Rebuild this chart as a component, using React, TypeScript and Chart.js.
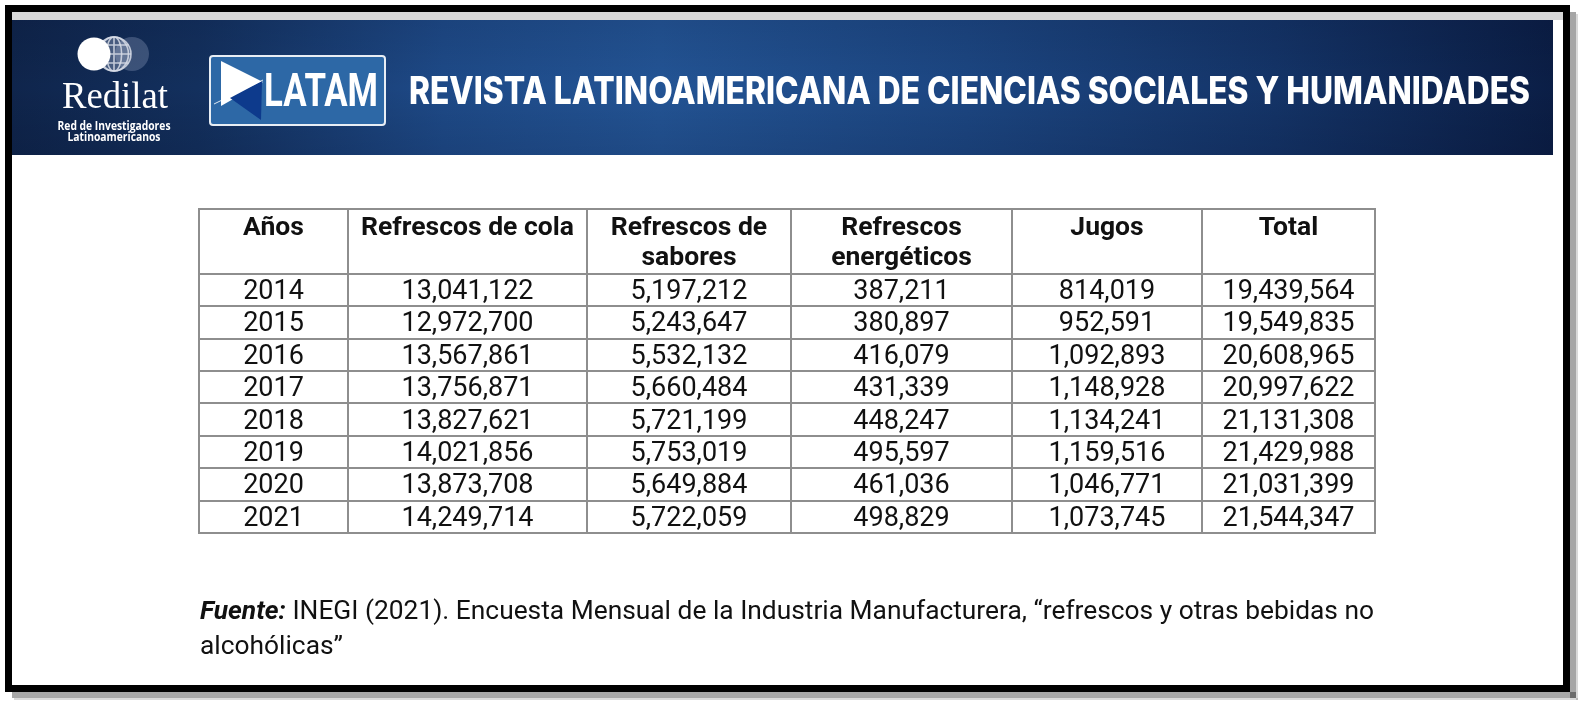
import React, { useEffect, useRef } from "react";
import { Chart, registerables } from "chart.js";

Chart.register(...registerables);

// ---------- data ----------
const years = ["2014", "2015", "2016", "2017", "2018", "2019", "2020", "2021"];
const refrescosCola = [13041122, 12972700, 13567861, 13756871, 13827621, 14021856, 13873708, 14249714];
const refrescosSabores = [5197212, 5243647, 5532132, 5660484, 5721199, 5753019, 5649884, 5722059];
const refrescosEnergeticos = [387211, 380897, 416079, 431339, 448247, 495597, 461036, 498829];
const jugos = [814019, 952591, 1092893, 1148928, 1134241, 1159516, 1046771, 1073745];
const total = [19439564, 19549835, 20608965, 20997622, 21131308, 21429988, 21031399, 21544347];

const columnHeaders = [
  ["Años"],
  ["Refrescos de cola"],
  ["Refrescos de", "sabores"],
  ["Refrescos", "energéticos"],
  ["Jugos"],
  ["Total"],
];

const bannerTitle = "REVISTA LATINOAMERICANA DE CIENCIAS SOCIALES Y HUMANIDADES";
const brandName = "Redilat";
const brandLine1 = "Red de Investigadores";
const brandLine2 = "Latinoamericanos";
const logoText = "LATAM";
const sourceLabel = "Fuente:";
const sourceLine1 = " INEGI (2021). Encuesta Mensual de la Industria Manufacturera, “refrescos y otras bebidas no";
const sourceLine2 = "alcohólicas”";

// ---------- layout / style ----------
const W = 1584;
const H = 706;
const COL_WIDTHS = [149, 239, 204, 221, 190, 173];
const HEADER_UNITS = 2;
const TABLE_BOX = { left: 199, top: 209, right: 1375, bottom: 533 };
const GRID_COLOR = "#8e8e8e";
const TEXT_COLOR = "#111111";

const colEdges: number[] = [0];
COL_WIDTHS.forEach((w, i) => colEdges.push(colEdges[i] + w));
const colCenters = COL_WIDTHS.map((w, i) => colEdges[i] + w / 2);

const columnValues: (string | number)[][] = [
  years,
  refrescosCola,
  refrescosSabores,
  refrescosEnergeticos,
  jugos,
  total,
];

const fmt = (v: string | number) => (typeof v === "number" ? v.toLocaleString("en-US") : v);

function fitText(ctx: CanvasRenderingContext2D, text: string, x: number, y: number, width: number, align: CanvasTextAlign) {
  const m = ctx.measureText(text).width;
  const s = width / m;
  ctx.save();
  ctx.translate(x, y);
  ctx.scale(s, 1);
  ctx.textAlign = align;
  ctx.fillText(text, 0, 0);
  ctx.restore();
}

const backgroundPlugin = {
  id: "pageBackground",
  beforeDraw(chart: any) {
    const ctx: CanvasRenderingContext2D = chart.ctx;
    ctx.save();
    ctx.fillStyle = "#ffffff";
    ctx.fillRect(0, 0, W, H);

    // frame shadow
    ctx.fillStyle = "rgba(0,0,0,0.35)";
    ctx.fillRect(1570, 12, 6, 686);
    ctx.fillRect(12, 692, 1564, 6);
    ctx.fillStyle = "rgba(0,0,0,0.15)";
    ctx.fillRect(1576, 14, 2, 686);
    ctx.fillRect(14, 698, 1564, 2);

    // black frame
    ctx.strokeStyle = "#000000";
    ctx.lineWidth = 7;
    ctx.strokeRect(8.5, 8.5, 1558, 680);

    // grey strip
    ctx.fillStyle = "#d8d8d8";
    ctx.fillRect(12, 12, 1551, 8);

    // banner
    const bx = 12, by = 20, bw = 1541, bh = 135;
    const g = ctx.createLinearGradient(bx, 0, bx + bw, 0);
    g.addColorStop(0, "#0f254c");
    g.addColorStop(0.12, "#13305e");
    g.addColorStop(0.28, "#1e4a88");
    g.addColorStop(0.42, "#235495");
    g.addColorStop(0.62, "#1c4682");
    g.addColorStop(0.82, "#143468");
    g.addColorStop(1, "#0b1e46");
    ctx.fillStyle = g;
    ctx.fillRect(bx, by, bw, bh);
    const gv = ctx.createLinearGradient(0, by, 0, by + bh);
    gv.addColorStop(0, "rgba(0,0,20,0.10)");
    gv.addColorStop(0.5, "rgba(0,0,0,0)");
    gv.addColorStop(1, "rgba(0,0,20,0.12)");
    ctx.fillStyle = gv;
    ctx.fillRect(bx, by, bw, bh);

    // Redilat circles
    const cy = 54;
    const r = 17;
    ctx.fillStyle = "rgba(120,135,170,0.42)";
    ctx.beginPath();
    ctx.arc(132, cy, r, 0, Math.PI * 2);
    ctx.fill();
    // globe
    const gx = 114;
    ctx.fillStyle = "rgba(190,200,220,0.32)";
    ctx.beginPath();
    ctx.arc(gx, cy, r, 0, Math.PI * 2);
    ctx.fill();
    ctx.strokeStyle = "rgba(215,220,230,0.85)";
    ctx.lineWidth = 1.6;
    ctx.beginPath();
    ctx.arc(gx, cy, r, 0, Math.PI * 2);
    ctx.stroke();
    [0.45, 0.85].forEach((k) => {
      ctx.beginPath();
      ctx.ellipse(gx, cy, r * k, r, 0, 0, Math.PI * 2);
      ctx.stroke();
    });
    ctx.beginPath();
    ctx.moveTo(gx, cy - r);
    ctx.lineTo(gx, cy + r);
    [-9, 0, 9].forEach((dy) => {
      const half = Math.sqrt(r * r - dy * dy);
      ctx.moveTo(gx - half, cy + dy);
      ctx.lineTo(gx + half, cy + dy);
    });
    ctx.stroke();
    // white circle
    ctx.fillStyle = "#ffffff";
    ctx.beginPath();
    ctx.arc(94, cy, 16.5, 0, Math.PI * 2);
    ctx.fill();

    // Redilat text
    ctx.fillStyle = "#ffffff";
    ctx.textBaseline = "alphabetic";
    ctx.font = '37px "Liberation Serif"';
    fitText(ctx, brandName, 115, 108, 106, "center");
    ctx.font = 'bold 13px "Open Sans"';
    fitText(ctx, brandLine1, 114, 130, 113, "center");
    fitText(ctx, brandLine2, 114, 141, 93, "center");

    // LATAM logo box
    ctx.fillStyle = "#2d68a6";
    ctx.strokeStyle = "#e8eef5";
    ctx.lineWidth = 2;
    ctx.beginPath();
    ctx.roundRect(210, 56, 175, 69, 3);
    ctx.fill();
    ctx.stroke();
    ctx.fillStyle = "#ffffff";
    ctx.beginPath();
    ctx.moveTo(221, 61);
    ctx.lineTo(263, 82);
    ctx.lineTo(221, 106);
    ctx.closePath();
    ctx.fill();
    ctx.fillStyle = "#0d3a8c";
    ctx.beginPath();
    ctx.moveTo(230, 98);
    ctx.lineTo(262, 81);
    ctx.lineTo(261, 120);
    ctx.closePath();
    ctx.fill();
    ctx.strokeStyle = "rgba(255,255,255,0.85)";
    ctx.lineWidth = 1;
    ctx.beginPath();
    ctx.moveTo(214, 104);
    ctx.lineTo(263, 80);
    ctx.stroke();
    ctx.fillStyle = "#ffffff";
    ctx.font = 'bold 47px Roboto';
    fitText(ctx, logoText, 264, 106, 114, "left");

    // title
    ctx.font = '800 38px Inter';
    fitText(ctx, bannerTitle, 409, 104, 1121, "left");
    ctx.restore();
  },
};

const tablePlugin = {
  id: "tableCells",
  afterDatasetsDraw(chart: any) {
    const ctx: CanvasRenderingContext2D = chart.ctx;
    const xs = chart.scales.x;
    const ys = chart.scales.y;
    ctx.save();

    // grid lines
    ctx.strokeStyle = GRID_COLOR;
    ctx.lineWidth = 2;
    const top = ys.getPixelForValue(0);
    const bottom = ys.getPixelForValue(HEADER_UNITS + years.length);
    const left = xs.getPixelForValue(0);
    const right = xs.getPixelForValue(colEdges[colEdges.length - 1]);
    ctx.beginPath();
    colEdges.forEach((e) => {
      const px = Math.round(xs.getPixelForValue(e));
      ctx.moveTo(px, top - 1);
      ctx.lineTo(px, bottom + 1);
    });
    const rowEdges = [0, ...years.map((_, i) => HEADER_UNITS + i), HEADER_UNITS + years.length];
    rowEdges.forEach((rv) => {
      const py = Math.round(ys.getPixelForValue(rv));
      ctx.moveTo(left - 1, py);
      ctx.lineTo(right + 1, py);
    });
    ctx.stroke();

    // headers
    ctx.fillStyle = TEXT_COLOR;
    ctx.textAlign = "center";
    ctx.textBaseline = "alphabetic";
    ctx.font = "bold 26.5px Roboto";
    columnHeaders.forEach((lines, j) => {
      const cx = xs.getPixelForValue(colCenters[j]);
      lines.forEach((t, k) => {
        ctx.fillText(t, cx, top + 26 + k * 30);
      });
    });

    // cells from dataset elements
    ctx.font = "27px Roboto";
    chart.data.datasets.forEach((ds: any, d: number) => {
      const meta = chart.getDatasetMeta(d);
      meta.data.forEach((el: any, i: number) => {
        ctx.fillText(fmt(columnValues[d][i]), el.x, el.y + 9);
      });
    });

    // source note
    ctx.textAlign = "left";
    ctx.font = "italic bold 25px Roboto";
    const w1 = ctx.measureText(sourceLabel).width;
    ctx.font = "25px Roboto";
    const w2 = ctx.measureText(sourceLine1).width;
    const s = 1174 / (w1 + w2);
    ctx.save();
    ctx.translate(200, 619);
    ctx.scale(s, 1);
    ctx.font = "italic bold 25px Roboto";
    ctx.fillText(sourceLabel, 0, 0);
    ctx.font = "25px Roboto";
    ctx.fillText(sourceLine1, w1, 0);
    ctx.restore();
    ctx.save();
    ctx.translate(200, 654);
    ctx.scale(s, 1);
    ctx.fillText(sourceLine2, 0, 0);
    ctx.restore();

    ctx.restore();
  },
};

export default function App() {
  const ref = useRef<HTMLCanvasElement | null>(null);

  useEffect(() => {
    document.body.style.margin = "0";
    const canvas = ref.current;
    if (!canvas) return;
    const datasets = columnValues.map((col, j) => ({
      label: columnHeaders[j].join(" "),
      data: col.map((_, i) => ({ x: colCenters[j], y: HEADER_UNITS + i + 0.5 })),
      pointRadius: 0,
      pointHoverRadius: 0,
      showLine: false,
    }));
    const chart = new Chart(canvas, {
      type: "scatter",
      data: { datasets },
      options: {
        responsive: false,
        animation: false,
        events: [],
        devicePixelRatio: 1,
        layout: {
          padding: {
            left: TABLE_BOX.left,
            top: TABLE_BOX.top,
            right: W - TABLE_BOX.right,
            bottom: H - TABLE_BOX.bottom,
          },
        },
        scales: {
          x: { type: "linear", min: 0, max: colEdges[colEdges.length - 1], display: false },
          y: { type: "linear", min: 0, max: HEADER_UNITS + years.length, reverse: true, display: false },
        },
        plugins: {
          legend: { display: false },
          tooltip: { enabled: false },
          title: { display: false },
        },
      },
      plugins: [backgroundPlugin, tablePlugin],
    } as any);
    return () => chart.destroy();
  }, []);

  return (
    <div style={{ position: "absolute", left: 0, top: 0, width: W, height: H }}>
      <canvas ref={ref} width={W} height={H} style={{ display: "block", width: W, height: H }} />
    </div>
  );
}
